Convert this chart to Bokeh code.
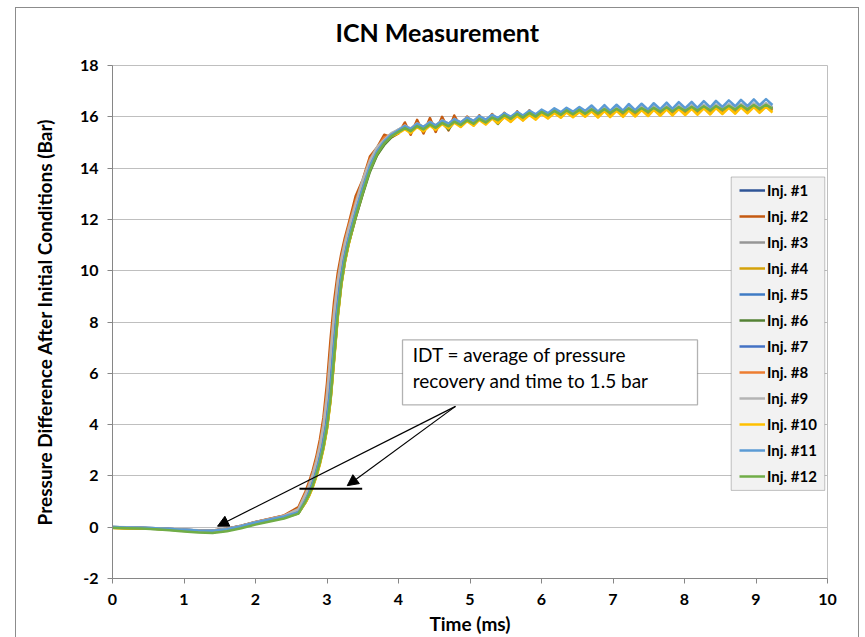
from bokeh.plotting import figure
from bokeh.models import (Range1d, Legend, LegendItem, Label, Arrow, NormalHead,
                          BoxAnnotation, FixedTicker, InlineStyleSheet)
from bokeh.embed import file_html
from bokeh.resources import INLINE

FONT = "Lato"

# ---------------- data ----------------
time_ms = [0.0, 0.2, 0.4, 0.6, 0.8, 1.0, 1.2, 1.4, 1.6, 1.8, 2.0, 2.2, 2.4, 2.6,
           2.7, 2.75, 2.8, 2.85, 2.9, 2.95, 3.0, 3.05, 3.1, 3.15, 3.2, 3.25, 3.3,
           3.4, 3.5, 3.6, 3.7, 3.8, 3.9, 4.0,
           4.09, 4.17, 4.26, 4.35, 4.44, 4.52, 4.61, 4.70, 4.78, 4.87,
           4.96, 5.05, 5.13, 5.22, 5.31, 5.39, 5.48, 5.57, 5.66, 5.74,
           5.83, 5.92, 6.00, 6.09, 6.18, 6.27, 6.35, 6.44, 6.53, 6.61,
           6.70, 6.79, 6.88, 6.96, 7.05, 7.14, 7.22, 7.31, 7.40, 7.49,
           7.57, 7.66, 7.75, 7.83, 7.92, 8.01, 8.10, 8.18, 8.27, 8.36,
           8.44, 8.53, 8.62, 8.71, 8.79, 8.88, 8.97, 9.05, 9.14, 9.23]

inj1 = [0.00, -0.01, -0.03, -0.05, -0.07, -0.10, -0.13, -0.14, -0.07, 0.05, 0.19, 0.31, 0.43, 0.62,
        1.15, 1.45, 1.85, 2.30, 2.85, 3.55, 4.45, 5.90, 7.70, 9.10, 10.10, 10.80, 11.40,
        12.45, 13.25, 14.20, 14.65, 15.10, 15.25, 15.50,
        15.58, 15.50, 15.66, 15.57, 15.72, 15.63, 15.78, 15.69, 15.83, 15.74,
        15.89, 15.79, 15.94, 15.84, 15.99, 15.89, 16.04, 15.94, 16.09, 15.99,
        16.13, 16.03, 16.17, 16.07, 16.21, 16.10, 16.23, 16.12, 16.25, 16.14,
        16.27, 16.15, 16.28, 16.17, 16.29, 16.18, 16.31, 16.19, 16.32, 16.21,
        16.33, 16.22, 16.35, 16.23, 16.36, 16.25, 16.37, 16.26, 16.39, 16.27,
        16.40, 16.29, 16.41, 16.30, 16.43, 16.31, 16.44, 16.33, 16.45, 16.34]

inj2 = [-0.02, -0.03, -0.04, -0.05, -0.08, -0.11, -0.13, -0.13, -0.06, 0.06, 0.20, 0.33, 0.46, 0.78,
        1.39, 1.77, 2.21, 2.74, 3.41, 4.27, 5.61, 7.34, 8.82, 9.90, 10.66, 11.28, 11.80,
        12.90, 13.55, 14.45, 14.80, 15.30, 15.20, 15.35,
        15.78, 15.30, 15.88, 15.35, 15.95, 15.41, 16.00, 15.47, 16.05, 15.62,
        16.01, 15.67, 16.06, 15.72, 16.11, 15.77, 16.16, 15.82, 16.21, 15.87,
        16.25, 15.97, 16.19, 16.01, 16.23, 16.04, 16.25, 16.06, 16.27, 16.08,
        16.29, 16.09, 16.30, 16.11, 16.31, 16.12, 16.33, 16.13, 16.34, 16.15,
        16.35, 16.16, 16.37, 16.17, 16.38, 16.19, 16.39, 16.20, 16.41, 16.21,
        16.42, 16.23, 16.43, 16.24, 16.45, 16.25, 16.46, 16.27, 16.47, 16.28]

inj3 = [0.01, -0.01, -0.02, -0.04, -0.07, -0.10, -0.12, -0.13, -0.06, 0.06, 0.20, 0.32, 0.45, 0.64,
        1.18, 1.50, 1.90, 2.36, 2.92, 3.63, 4.55, 6.02, 7.82, 9.18, 10.15, 10.85, 11.45,
        12.48, 13.36, 14.20, 14.72, 15.10, 15.33, 15.50,
        15.65, 15.53, 15.73, 15.60, 15.79, 15.66, 15.85, 15.72, 15.90, 15.77,
        15.96, 15.82, 16.01, 15.87, 16.06, 15.92, 16.11, 15.97, 16.16, 16.02,
        16.20, 16.06, 16.24, 16.10, 16.28, 16.13, 16.30, 16.15, 16.32, 16.17,
        16.34, 16.18, 16.35, 16.20, 16.36, 16.21, 16.38, 16.22, 16.39, 16.24,
        16.40, 16.25, 16.42, 16.26, 16.43, 16.28, 16.44, 16.29, 16.46, 16.30,
        16.47, 16.32, 16.48, 16.33, 16.50, 16.34, 16.51, 16.36, 16.52, 16.37]

inj4 = [-0.03, -0.05, -0.04, -0.06, -0.09, -0.12, -0.15, -0.16, -0.10, 0.02, 0.16, 0.28, 0.40, 0.55,
        0.98, 1.25, 1.58, 2.00, 2.48, 3.08, 3.85, 4.96, 6.55, 8.20, 9.46, 10.35, 11.00,
        12.06, 13.00, 13.95, 14.50, 14.98, 15.20, 15.40,
        15.56, 15.40, 15.64, 15.47, 15.70, 15.53, 15.76, 15.59, 15.81, 15.64,
        15.87, 15.69, 15.92, 15.74, 15.97, 15.79, 16.02, 15.84, 16.07, 15.89,
        16.11, 15.93, 16.15, 15.97, 16.19, 16.00, 16.21, 16.02, 16.23, 16.04,
        16.25, 16.05, 16.26, 16.07, 16.27, 16.08, 16.29, 16.09, 16.30, 16.11,
        16.31, 16.12, 16.33, 16.13, 16.34, 16.15, 16.35, 16.16, 16.37, 16.17,
        16.38, 16.19, 16.39, 16.20, 16.41, 16.21, 16.42, 16.23, 16.43, 16.24]

inj5 = [0.00, -0.02, -0.03, -0.05, -0.08, -0.11, -0.14, -0.15, -0.09, 0.03, 0.17, 0.29, 0.41, 0.58,
        1.08, 1.36, 1.73, 2.17, 2.69, 3.34, 4.18, 5.47, 7.16, 8.68, 9.80, 10.60, 11.22,
        12.25, 13.17, 14.03, 14.62, 15.00, 15.27, 15.43,
        15.63, 15.51, 15.71, 15.58, 15.77, 15.64, 15.83, 15.70, 15.88, 15.75,
        15.94, 15.80, 15.99, 15.85, 16.04, 15.90, 16.09, 15.95, 16.14, 16.00,
        16.18, 16.04, 16.22, 16.08, 16.26, 16.11, 16.28, 16.13, 16.30, 16.15,
        16.32, 16.16, 16.33, 16.18, 16.34, 16.19, 16.36, 16.20, 16.37, 16.22,
        16.38, 16.23, 16.40, 16.24, 16.41, 16.26, 16.42, 16.27, 16.44, 16.28,
        16.45, 16.30, 16.46, 16.31, 16.48, 16.32, 16.49, 16.34, 16.50, 16.35]

inj6 = [-0.01, -0.03, -0.04, -0.07, -0.10, -0.14, -0.18, -0.20, -0.13, -0.01, 0.13, 0.25, 0.37, 0.54,
        0.97, 1.24, 1.58, 2.00, 2.50, 3.10, 3.88, 5.00, 6.60, 8.24, 9.48, 10.36, 11.02,
        12.05, 12.98, 13.85, 14.50, 14.90, 15.20, 15.38,
        15.56, 15.46, 15.64, 15.53, 15.70, 15.59, 15.76, 15.50, 15.81, 15.70,
        15.87, 15.75, 15.92, 15.80, 15.97, 15.72, 16.02, 15.90, 16.07, 15.95,
        16.11, 15.99, 16.15, 16.03, 16.19, 16.06, 16.21, 16.08, 16.23, 16.10,
        16.25, 16.11, 16.26, 16.13, 16.27, 16.14, 16.29, 16.15, 16.30, 16.17,
        16.31, 16.18, 16.33, 16.19, 16.34, 16.21, 16.35, 16.22, 16.37, 16.23,
        16.38, 16.25, 16.39, 16.26, 16.41, 16.27, 16.42, 16.29, 16.43, 16.30]

inj7 = [0.01, -0.01, -0.02, -0.04, -0.07, -0.10, -0.13, -0.14, -0.07, 0.05, 0.18, 0.30, 0.42, 0.62,
        1.13, 1.43, 1.82, 2.27, 2.81, 3.50, 4.40, 5.84, 7.64, 9.05, 10.06, 10.77, 11.37,
        12.36, 13.26, 14.12, 14.68, 15.03, 15.29, 15.46,
        15.60, 15.52, 15.68, 15.59, 15.74, 15.65, 15.80, 15.71, 15.85, 15.76,
        15.91, 15.81, 15.96, 15.86, 16.01, 15.91, 16.06, 15.96, 16.11, 16.01,
        16.15, 16.05, 16.19, 16.09, 16.23, 16.12, 16.25, 16.14, 16.27, 16.16,
        16.29, 16.17, 16.30, 16.19, 16.31, 16.20, 16.33, 16.21, 16.34, 16.23,
        16.35, 16.24, 16.37, 16.25, 16.38, 16.27, 16.39, 16.28, 16.41, 16.29,
        16.42, 16.31, 16.43, 16.32, 16.45, 16.33, 16.46, 16.35, 16.47, 16.36]

inj8 = [-0.01, -0.02, -0.03, -0.05, -0.08, -0.11, -0.13, -0.14, -0.07, 0.05, 0.19, 0.32, 0.45, 0.70,
        1.32, 1.68, 2.10, 2.62, 3.24, 4.05, 5.25, 6.88, 8.45, 9.62, 10.48, 11.15, 11.70,
        12.70, 13.50, 14.35, 14.78, 15.20, 15.30, 15.45,
        15.67, 15.41, 15.75, 15.48, 15.81, 15.54, 15.87, 15.60, 15.92, 15.65,
        15.98, 15.70, 16.03, 15.75, 16.08, 15.80, 16.13, 15.85, 16.18, 15.90,
        16.17, 15.99, 16.21, 16.03, 16.25, 16.06, 16.27, 16.08, 16.29, 16.10,
        16.31, 16.11, 16.32, 16.13, 16.33, 16.14, 16.35, 16.15, 16.36, 16.17,
        16.37, 16.18, 16.39, 16.19, 16.40, 16.21, 16.41, 16.22, 16.43, 16.23,
        16.44, 16.25, 16.45, 16.26, 16.47, 16.27, 16.48, 16.29, 16.49, 16.30]

inj9 = [0.01, 0.00, -0.02, -0.04, -0.07, -0.10, -0.13, -0.14, -0.07, 0.05, 0.19, 0.31, 0.44, 0.70,
        1.28, 1.63, 2.05, 2.55, 3.16, 3.96, 5.12, 6.74, 8.35, 9.58, 10.42, 11.06, 11.62,
        12.60, 13.55, 14.28, 14.82, 15.10, 15.36, 15.50,
        15.66, 15.54, 15.74, 15.61, 15.80, 15.67, 15.86, 15.73, 15.91, 15.78,
        15.97, 15.83, 16.02, 15.88, 16.07, 15.93, 16.12, 15.98, 16.17, 16.03,
        16.21, 16.07, 16.25, 16.11, 16.29, 16.14, 16.31, 16.16, 16.33, 16.18,
        16.35, 16.19, 16.36, 16.21, 16.37, 16.22, 16.39, 16.23, 16.40, 16.25,
        16.41, 16.26, 16.43, 16.27, 16.44, 16.29, 16.45, 16.30, 16.47, 16.31,
        16.48, 16.33, 16.49, 16.34, 16.51, 16.35, 16.52, 16.37, 16.53, 16.38]

inj10 = [-0.02, -0.04, -0.04, -0.06, -0.09, -0.12, -0.15, -0.16, -0.10, 0.02, 0.16, 0.28, 0.40, 0.55,
         0.96, 1.22, 1.55, 1.96, 2.45, 3.05, 3.82, 4.93, 6.50, 8.15, 9.42, 10.32, 10.98,
         12.15, 13.10, 13.98, 14.60, 15.00, 15.25, 15.36,
         15.52, 15.36, 15.60, 15.43, 15.66, 15.49, 15.72, 15.55, 15.77, 15.60,
         15.83, 15.65, 15.88, 15.70, 15.93, 15.75, 15.98, 15.80, 16.03, 15.85,
         16.07, 15.89, 16.11, 15.93, 16.15, 15.96, 16.17, 15.98, 16.19, 16.00,
         16.21, 15.97, 16.22, 15.99, 16.23, 16.00, 16.25, 16.01, 16.26, 16.03,
         16.27, 16.04, 16.29, 16.05, 16.30, 16.07, 16.31, 16.08, 16.33, 16.09,
         16.34, 16.11, 16.35, 16.12, 16.37, 16.13, 16.38, 16.15, 16.39, 16.16]

inj11 = [0.01, -0.01, -0.02, -0.04, -0.07, -0.10, -0.13, -0.14, -0.08, 0.04, 0.18, 0.30, 0.42, 0.58,
         1.06, 1.34, 1.71, 2.14, 2.66, 3.30, 4.13, 5.40, 7.08, 8.62, 9.76, 10.57, 11.20,
         12.28, 13.22, 14.08, 14.66, 15.04, 15.30, 15.47,
         15.64, 15.52, 15.73, 15.60, 15.79, 15.66, 15.85, 15.73, 15.91, 15.78,
         15.97, 15.84, 16.03, 15.89, 16.08, 15.95, 16.14, 16.00, 16.19, 16.05,
         16.24, 16.10, 16.28, 16.14, 16.33, 16.18, 16.35, 16.20, 16.38, 16.23,
         16.44, 16.20, 16.46, 16.23, 16.47, 16.24, 16.50, 16.26, 16.51, 16.28,
         16.53, 16.30, 16.55, 16.31, 16.57, 16.34, 16.58, 16.35, 16.61, 16.37,
         16.62, 16.39, 16.64, 16.41, 16.66, 16.42, 16.68, 16.45, 16.69, 16.46]

inj12 = [-0.02, -0.04, -0.05, -0.08, -0.12, -0.17, -0.21, -0.23, -0.16, -0.04, 0.10, 0.22, 0.34, 0.53,
         1.00, 1.27, 1.61, 2.03, 2.52, 3.13, 3.91, 5.03, 6.62, 8.26, 9.50, 10.38, 11.04,
         12.10, 13.03, 13.91, 14.55, 14.96, 15.24, 15.41,
         15.56, 15.44, 15.64, 15.51, 15.70, 15.57, 15.76, 15.63, 15.81, 15.68,
         15.87, 15.73, 15.92, 15.78, 15.97, 15.87, 16.06, 15.92, 16.11, 15.97,
         16.15, 16.01, 16.19, 16.05, 16.23, 16.08, 16.25, 16.10, 16.27, 16.12,
         16.29, 16.13, 16.30, 16.15, 16.31, 16.16, 16.33, 16.17, 16.34, 16.19,
         16.35, 16.20, 16.37, 16.21, 16.38, 16.23, 16.39, 16.24, 16.41, 16.25,
         16.42, 16.27, 16.43, 16.28, 16.45, 16.29, 16.46, 16.31, 16.47, 16.32]

series_names = ["Inj. #1", "Inj. #2", "Inj. #3", "Inj. #4", "Inj. #5", "Inj. #6",
                "Inj. #7", "Inj. #8", "Inj. #9", "Inj. #10", "Inj. #11", "Inj. #12"]
series_values = [inj1, inj2, inj3, inj4, inj5, inj6, inj7, inj8, inj9, inj10, inj11, inj12]
series_colors = ["#2F5597", "#C55A11", "#969696", "#D4A20A", "#3F7BC4", "#548235",
                 "#4472C4", "#ED7D31", "#B4B4B4", "#FFC000", "#5B9BD5", "#70AD47"]

x_ticks = [0, 1, 2, 3, 4, 5, 6, 7, 8, 9, 10]
y_ticks = [-2, 0, 2, 4, 6, 8, 10, 12, 14, 16, 18]
idt_level = 1.5

# outer chart-area border (drawn by CSS, outside the SVG)
border_css = InlineStyleSheet(css="""
:host { position: relative; }
:host::after {
  content: ""; position: absolute; left: 15px; top: 7px; right: 6px; bottom: -4px;
  border: 1px solid #8C8C8C; pointer-events: none;
}
""")

# ---------------- figure ----------------
p = figure(width=865, height=637, output_backend="svg", toolbar_location=None,
           x_range=Range1d(0, 10), y_range=Range1d(-2, 18),
           min_border_left=112, min_border_right=38, min_border_top=65, min_border_bottom=58,
           background_fill_color="white", border_fill_color="white",
           stylesheets=[border_css])
p.outline_line_color = "#BFBFBF"
p.xgrid.visible = False
p.ygrid.grid_line_color = "#BFBFBF"
p.ygrid.grid_line_width = 1

p.title.text = "ICN Measurement"
p.title.align = "left"
p.title.offset = 223
p.title.vertical_align = "top"
p.title.standoff = 33
p.title.text_font = FONT
p.title.text_font_size = "25px"
p.title.text_font_style = "bold"
p.title.text_color = "#000000"

p.xaxis.ticker = FixedTicker(ticks=x_ticks)
p.yaxis.ticker = FixedTicker(ticks=y_ticks)
p.yaxis.major_label_overrides = {-2: "-2"}
for ax in (p.xaxis, p.yaxis):
    ax.axis_line_color = "#868686"
    ax.major_tick_line_color = "#868686"
    ax.major_tick_out = 5
    ax.major_tick_in = 0
    ax.minor_tick_out = 0
    ax.minor_tick_in = 0
    ax.major_label_text_font = FONT
    ax.major_label_text_font_size = "16px"
    ax.major_label_text_font_style = "bold"
    ax.major_label_text_color = "#000000"
    ax.axis_label_text_font = FONT
    ax.axis_label_text_font_size = "19px"
    ax.axis_label_text_font_style = "bold"
    ax.axis_label_text_color = "#000000"
p.xaxis.axis_label = "Time (ms)"
p.yaxis.axis_label = "Pressure Difference After Initial Conditions (Bar)"
p.xaxis.major_label_standoff = 10
p.xaxis.axis_label_standoff = 4
p.yaxis.major_label_standoff = 9
p.yaxis.axis_label_standoff = 21

renderers = []
for vals, col in zip(series_values, series_colors):
    r = p.line(time_ms, vals, line_color=col, line_width=2.5, line_join="round")
    renderers.append(r)

# legend box
p.add_layout(BoxAnnotation(left=8.653, right=9.962, top=13.654, bottom=1.435,
                           fill_color="#F2F2F2", fill_alpha=1, line_color="#404040",
                           line_width=1))
legend = Legend(items=[LegendItem(label=n, renderers=[r]) for n, r in zip(series_names, renderers)],
                location=(626, 88), padding=1, spacing=0, margin=0,
                glyph_width=26, glyph_height=26, label_height=26, label_standoff=2,
                label_text_font=FONT, label_text_font_size="15px",
                label_text_font_style="bold", label_text_color="#000000",
                background_fill_alpha=0, border_line_alpha=0)
p.add_layout(legend)

# annotation: text box, arrows and 1.5 bar line
p.add_layout(BoxAnnotation(left=4.056, right=8.182, top=7.30, bottom=4.77,
                           fill_color="white", fill_alpha=1, line_color="#000000",
                           line_width=1.3))
p.add_layout(Label(x=4.2, y=6.29, text="IDT = average of pressure",
                   text_font=FONT, text_font_size="19px", text_color="#000000"))
p.add_layout(Label(x=4.2, y=5.29, text="recovery and time to 1.5 bar",
                   text_font=FONT, text_font_size="19px", text_color="#000000"))
p.add_layout(Arrow(end=NormalHead(size=11, fill_color="black", line_color="black", line_width=1),
                   x_start=4.797, y_start=4.71, x_end=1.469, y_end=0.04,
                   line_color="black", line_width=1.2))
p.add_layout(Arrow(end=NormalHead(size=11, fill_color="black", line_color="black", line_width=1),
                   x_start=4.797, y_start=4.71, x_end=3.283, y_end=1.62,
                   line_color="black", line_width=1.2))
p.add_layout(Arrow(end=None, x_start=2.615, y_start=idt_level, x_end=3.492, y_end=idt_level,
                   line_color="black", line_width=2.2))

open("out.html", "w").write(file_html(p, INLINE))
